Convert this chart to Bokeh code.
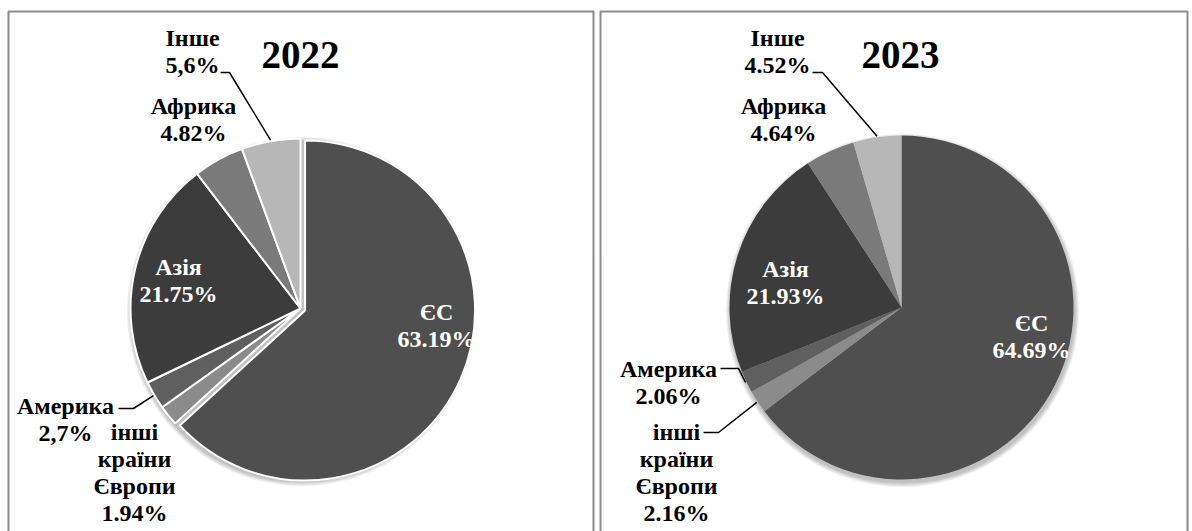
import numpy as np
from bokeh.plotting import figure
from bokeh.models import Range1d
from bokeh.core.properties import value
from bokeh.embed import file_html
from bokeh.resources import INLINE

# Export structure by region, % of total
regions = ["ЄС", "інші країни Європи", "Америка", "Азія", "Африка", "Інше"]
share_2022 = [63.19, 1.94, 2.70, 21.75, 4.82, 5.60]
share_2023 = [64.69, 2.16, 2.06, 21.93, 4.64, 4.52]
# decimal separator used in each printed percentage
sep_2022 = [".", ".", ",", ".", ".", ","]
sep_2023 = [".", ".", ".", ".", ".", "."]
years = ["2022", "2023"]

W, H = 1192, 531
FONT = value("'Liberation Serif', 'Times New Roman', serif")

slice_colors = ["#4f4f4f", "#8b8b8b", "#5f5f5f", "#3c3c3c", "#7a7a7a", "#b7b7b7"]
label_colors = ["white", "black", "black", "white", "black", "black"]
label_styles = ["bold", "bold", "bold", "bold", "bold", "bold"]


def Y(ypx):
    # page pixels (top-down) -> data units (bottom-up)
    return H - ypx


def fmt(v, sep):
    return f"{v:g}".replace(".", sep) + "%"


p = figure(width=W, height=H, output_backend="svg", toolbar_location=None,
           x_range=Range1d(0, W), y_range=Range1d(0, H),
           x_axis_location=None, y_axis_location=None,
           min_border=0, outline_line_color=None)
p.grid.visible = False
p.background_fill_color = "white"
p.border_fill_color = "white"

# label anchors: (centre x, first-line y) in page pixels
layouts = [
    dict(values=share_2022, seps=sep_2022, year=years[0],
         frame=(8, 593), cx=300, cy=308, r=170, title=(300, 54),
         explode=[5, 0, 0, 0, 0, 0], edge=2,
         labels=[(436, 311), (134, 431), (65, 405), (178, 266), (193, 105), (192, 37)],
         leaders={5: (220, 229, 72), 2: (118, 133, 408)}),
    dict(values=share_2023, seps=sep_2023, year=years[1],
         frame=(600, 1187), cx=901, cy=307, r=172, title=(900, 54),
         explode=[0, 0, 0, 0, 0, 0], edge=0,
         labels=[(1031, 322), (676, 431), (668, 368), (785, 268), (783, 105), (777, 37)],
         leaders={5: (812, 822, 72), 2: (720, 738, 368), 1: (703, 718, 432)}),
]

for L in layouts:
    # panel frame
    x0, x1 = L["frame"]
    p.quad(left=x0, right=x1, top=Y(11), bottom=-10, fill_alpha=0,
           line_color="#8a8a8a", line_width=2)

    vals = np.array(L["values"], dtype=float)
    frac = vals / vals.sum()
    ends = np.cumsum(frac) * 2 * np.pi          # clockwise from 12 o'clock
    starts = ends - frac * 2 * np.pi
    mids = (starts + ends) / 2
    cx, cy, r = L["cx"], Y(L["cy"]), L["r"]

    # soft drop shadow
    for k in range(1, 7):
        p.circle(x=cx + 1, y=cy - 3, radius=r + k * 0.8, fill_color="black",
                 fill_alpha=0.045, line_color=None)

    ex = np.array(L["explode"], dtype=float)
    xs = cx + ex * np.sin(mids)
    ys = cy + ex * np.cos(mids)
    p.wedge(x=xs, y=ys, radius=r,
            start_angle=np.pi / 2 - ends, end_angle=np.pi / 2 - starts,
            direction="anticlock", fill_color=slice_colors,
            line_color="white" if L["edge"] else None,
            line_width=L["edge"] if L["edge"] else 1)

    # title
    tx, ty = L["title"]
    p.text(x=[tx], y=[Y(ty)], text=[L["year"]], text_font=FONT,
           text_font_style="bold", text_font_size="39px", text_color="black",
           text_align="center", text_baseline="alphabetic")

    # data labels
    for i, name in enumerate(regions):
        lines = name.split(" ") + [fmt(L["values"][i], L["seps"][i])]
        lx, ly = L["labels"][i]
        for j, line in enumerate(lines):
            p.text(x=[lx], y=[Y(ly + 27.3 * j)], text=[line], text_font=FONT,
                   text_font_style=label_styles[i], text_font_size="24px",
                   text_color=label_colors[i], text_align="center",
                   text_baseline="alphabetic")

    # leader lines from label to slice edge
    for i, (xa, xb, yl) in L["leaders"].items():
        ex_i = xs[i] + (r + 1) * np.sin(mids[i])
        ey_i = ys[i] + (r + 1) * np.cos(mids[i])
        p.line(x=[xa, xb, ex_i], y=[Y(yl), Y(yl), ey_i],
               line_color="black", line_width=1.5)

open("out.html", "w").write(file_html(p, INLINE))
